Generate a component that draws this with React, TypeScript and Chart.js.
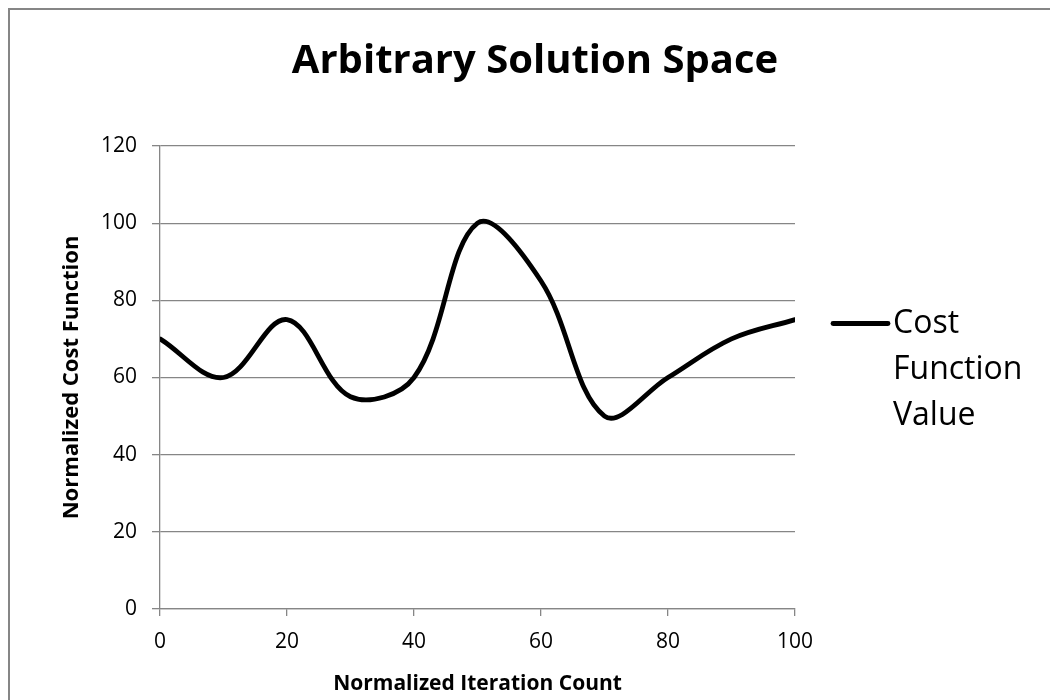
import { useEffect, useRef } from 'react';
import { Chart, registerables } from 'chart.js';

Chart.register(...registerables);

// Sampled cost curve
const iterations = [0, 10, 20, 30, 40, 50, 60, 70, 80, 90, 100];
const costValues = [70, 60, 75, 55, 60, 100, 85, 50, 60, 70, 75];

// Axis ranges / tick spacing
const xTicks = [0, 20, 40, 60, 80, 100];
const yTicks = [0, 20, 40, 60, 80, 100, 120];

const chartTitle = 'Arbitrary Solution Space';
const xTitle = 'Normalized Iteration Count';
const yTitle = 'Normalized Cost Function';
const seriesLabel = 'Cost Function Value';

const FONT = '"Open Sans", "DejaVu Sans", sans-serif';
const GRID = '#868686';

// Word-wrapped legend drawn to the right of the plot area
const sideLegend = {
  id: 'sideLegend',
  afterDraw(chart: any) {
    const { ctx, chartArea } = chart;
    const ds = chart.data.datasets[0];
    const fontSize = 32;
    ctx.save();
    ctx.font = `${fontSize}px ${FONT}`;
    const maxWidth = 140;
    const words = String(ds.label).split(' ');
    const lines: string[] = [];
    let cur = '';
    for (const w of words) {
      const test = cur ? cur + ' ' + w : w;
      if (cur && ctx.measureText(test).width > maxWidth) {
        lines.push(cur);
        cur = w;
      } else {
        cur = test;
      }
    }
    if (cur) lines.push(cur);

    const lineGap = 46;
    const midY = (chartArea.top + chartArea.bottom) / 2;
    const firstY = midY - 54;
    const lineStart = chartArea.right + 38;
    const lineEnd = chartArea.right + 93;
    const textX = chartArea.right + 98;

    ctx.strokeStyle = ds.borderColor;
    ctx.lineWidth = ds.borderWidth;
    ctx.lineCap = 'round';
    ctx.beginPath();
    ctx.moveTo(lineStart, firstY);
    ctx.lineTo(lineEnd, firstY);
    ctx.stroke();

    ctx.fillStyle = '#000';
    ctx.textAlign = 'left';
    ctx.textBaseline = 'middle';
    lines.forEach((line, i) => {
      ctx.fillText(line, textX, firstY + i * lineGap);
    });
    ctx.restore();
  },
};

export default function App() {
  const canvasRef = useRef<HTMLCanvasElement | null>(null);

  useEffect(() => {
    const canvas = canvasRef.current;
    if (!canvas) return;
    const chart = new Chart(canvas, {
      type: 'line',
      data: {
        datasets: [
          {
            label: seriesLabel,
            data: iterations.map((x, i) => ({ x, y: costValues[i] })),
            borderColor: '#000000',
            backgroundColor: '#000000',
            borderWidth: 4.8,
            pointRadius: 0,
            tension: 0.36,
            fill: false,
            borderCapStyle: 'round',
            borderJoinStyle: 'round',
          },
        ],
      },
      options: {
        animation: false,
        responsive: false,
        maintainAspectRatio: false,
        devicePixelRatio: 1,
        layout: { padding: { left: 10, right: 0, top: 0, bottom: 0 } },
        plugins: {
          legend: { display: false },
          tooltip: { enabled: false },
          title: {
            display: true,
            text: chartTitle,
            color: '#000',
            font: { family: FONT, size: 40, weight: 'bold', lineHeight: 1.2 },
            padding: { top: 28, bottom: 60 },
          },
        },
        scales: {
          x: {
            type: 'linear',
            min: xTicks[0],
            max: xTicks[xTicks.length - 1],
            afterFit(scale: any) {
              scale.height = 91;
            },
            afterBuildTicks(scale: any) {
              scale.ticks = xTicks.map((v) => ({ value: v }));
            },
            grid: {
              drawOnChartArea: false,
              drawTicks: true,
              tickLength: 7,
              color: GRID,
              lineWidth: 1.3,
            },
            border: { display: true, color: GRID, width: 1.3 },
            ticks: {
              color: '#000',
              padding: 13,
              font: { family: FONT, size: 21 },
              maxRotation: 0,
            },
            title: {
              display: true,
              text: xTitle,
              color: '#000',
              font: { family: FONT, size: 21, weight: 'bold', lineHeight: 1.2 },
              padding: { top: 0, bottom: 3 },
            },
          },
          y: {
            type: 'linear',
            min: yTicks[0],
            max: yTicks[yTicks.length - 1],
            afterFit(scale: any) {
              scale.width = 140;
            },
            afterBuildTicks(scale: any) {
              scale.ticks = yTicks.map((v) => ({ value: v }));
            },
            grid: {
              drawOnChartArea: true,
              drawTicks: true,
              tickLength: 8,
              color: GRID,
              lineWidth: 1.3,
            },
            border: { display: true, color: GRID, width: 1.3 },
            ticks: {
              color: '#000',
              padding: 15,
              font: { family: FONT, size: 21 },
            },
            title: {
              display: true,
              text: yTitle,
              color: '#000',
              font: { family: FONT, size: 22, weight: 'bold', lineHeight: 1.2 },
              padding: { top: 39, bottom: 0 },
            },
          },
          // empty right-hand band that holds the legend
          legendBand: {
            type: 'linear',
            position: 'right',
            display: true,
            afterFit(scale: any) {
              scale.width = 255;
            },
            grid: { display: false, drawTicks: false },
            border: { display: false },
            ticks: { display: false },
          },
        },
      },
      plugins: [sideLegend],
    } as any);
    return () => chart.destroy();
  }, []);

  return (
    <div
      style={{
        position: 'fixed',
        left: 8,
        top: 8,
        width: 1060,
        height: 710,
        border: '2px solid #868686',
        background: '#fff',
      }}
    >
      <canvas ref={canvasRef} width={1040} height={690} style={{ display: 'block', width: 1040, height: 690 }} />
    </div>
  );
}
